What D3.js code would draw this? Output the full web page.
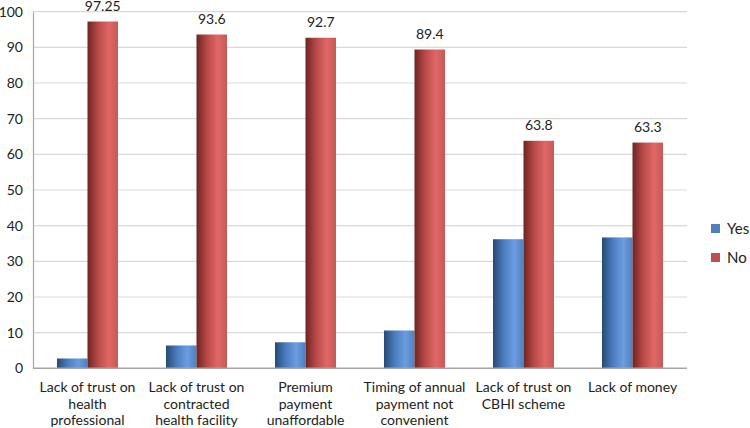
<!DOCTYPE html>
<html><head><meta charset="utf-8">
<script src="https://cdn.jsdelivr.net/npm/d3@7"></script>
<style>body{margin:0;background:#fff}svg{display:block}text{font-family:Lato,"Open Sans",sans-serif;fill:#222}</style>
</head><body><svg id="c" width="750" height="428"></svg>
<script>
const categories = [
  ["Lack of trust on","health","professional"],
  ["Lack of trust on","contracted","health facility"],
  ["Premium","payment","unaffordable"],
  ["Timing of annual","payment  not","convenient"],
  ["Lack of trust on","CBHI scheme"],
  ["Lack of money"]
];
const yesValues = [2.75, 6.4, 7.3, 10.6, 36.2, 36.7];
const noValues = [97.25, 93.6, 92.7, 89.4, 63.8, 63.3];
const noLabels = ["97.25","93.6","92.7","89.4","63.8","63.3"];
const yTicks = [0,10,20,30,40,50,60,70,80,90,100];
const seriesNames = ["Yes","No"];

const svg = d3.select("#c");
const mLeft = 33, mRight = 687, mTop = 11.7, mBottom = 368.3;
const x = d3.scaleBand().domain(d3.range(categories.length)).range([mLeft, mRight]).paddingInner(0.44).paddingOuter(0.22);
const y = d3.scaleLinear().domain([0,100]).range([mBottom, mTop]);

const defs = svg.append("defs");
function grad(id, stops){
  const g = defs.append("linearGradient").attr("id", id).attr("x1","0").attr("x2","1").attr("y1","0").attr("y2","0");
  stops.forEach(s => g.append("stop").attr("offset", s[0]).attr("stop-color", s[1]));
}
grad("gBlue", [[0,"#274a73"],[0.35,"#4a7cbf"],[0.7,"#6b9de0"],[1,"#4f81bd"]]);
grad("gRed", [[0,"#6e2423"],[0.35,"#b84a48"],[0.7,"#e06866"],[1,"#c55a57"]]);

// gridlines
svg.append("g").selectAll("line").data(yTicks.filter(d=>d>0)).join("line")
  .attr("x1", mLeft).attr("x2", mRight).attr("y1", d=>y(d)).attr("y2", d=>y(d))
  .attr("stroke", "#d9d9d9").attr("stroke-width", 1.2);

// y axis
const ya = svg.append("g").attr("transform", `translate(${mLeft},0)`)
  .call(d3.axisLeft(y).tickValues(yTicks).tickSize(0).tickPadding(10));
ya.select(".domain").attr("stroke", "#a6a6a6").attr("stroke-width", 1.2);
ya.selectAll("text").style("font-size", "14px").attr("fill", "#333").style("font-family", 'Lato,"Open Sans",sans-serif');

const bw = x.bandwidth()/2;
const g = svg.append("g");
g.selectAll(".yes").data(yesValues).join("rect")
  .attr("x", (d,i)=>x(i)).attr("width", bw)
  .attr("y", d=>y(d)).attr("height", d=>mBottom - y(d)).attr("fill", "url(#gBlue)");
g.selectAll(".no").data(noValues).join("rect")
  .attr("x", (d,i)=>x(i)+bw).attr("width", bw)
  .attr("y", d=>y(d)).attr("height", d=>mBottom - y(d)).attr("fill", "url(#gRed)");

// value labels
svg.append("g").selectAll("text").data(noValues).join("text")
  .attr("x", (d,i)=>x(i)+bw*1.5).attr("y", d=>y(d)-10.5)
  .attr("text-anchor","middle").style("font-size","14px").attr("fill","#111")
  .text((d,i)=>noLabels[i]);

// x axis line
svg.append("line").attr("x1", mLeft).attr("x2", mRight).attr("y1", mBottom).attr("y2", mBottom)
  .attr("stroke", "#a6a6a6").attr("stroke-width", 1.5);

// category labels
const cl = svg.append("g").selectAll("text").data(categories).join("text")
  .attr("x", (d,i)=>x(i)+x.bandwidth()/2).attr("y", 392)
  .attr("text-anchor","middle").style("font-size","14px").attr("fill","#333");
cl.selectAll("tspan").data(d=>d).join("tspan")
  .attr("x", function(){ return d3.select(this.parentNode).attr("x"); })
  .attr("dy", (d,j)=> j===0 ? 0 : 16.5).text(d=>d);

// legend
const lg = svg.append("g");
const colors = ["#4f81bd","#c0504d"];
seriesNames.forEach((s,i)=>{
  lg.append("rect").attr("x", 711).attr("y", 224 + i*29).attr("width", 9).attr("height", 9).attr("fill", colors[i]);
  lg.append("text").attr("x", 727).attr("y", 234 + i*29).style("font-size","15px").attr("fill","#222").text(s);
});
</script></body></html>
